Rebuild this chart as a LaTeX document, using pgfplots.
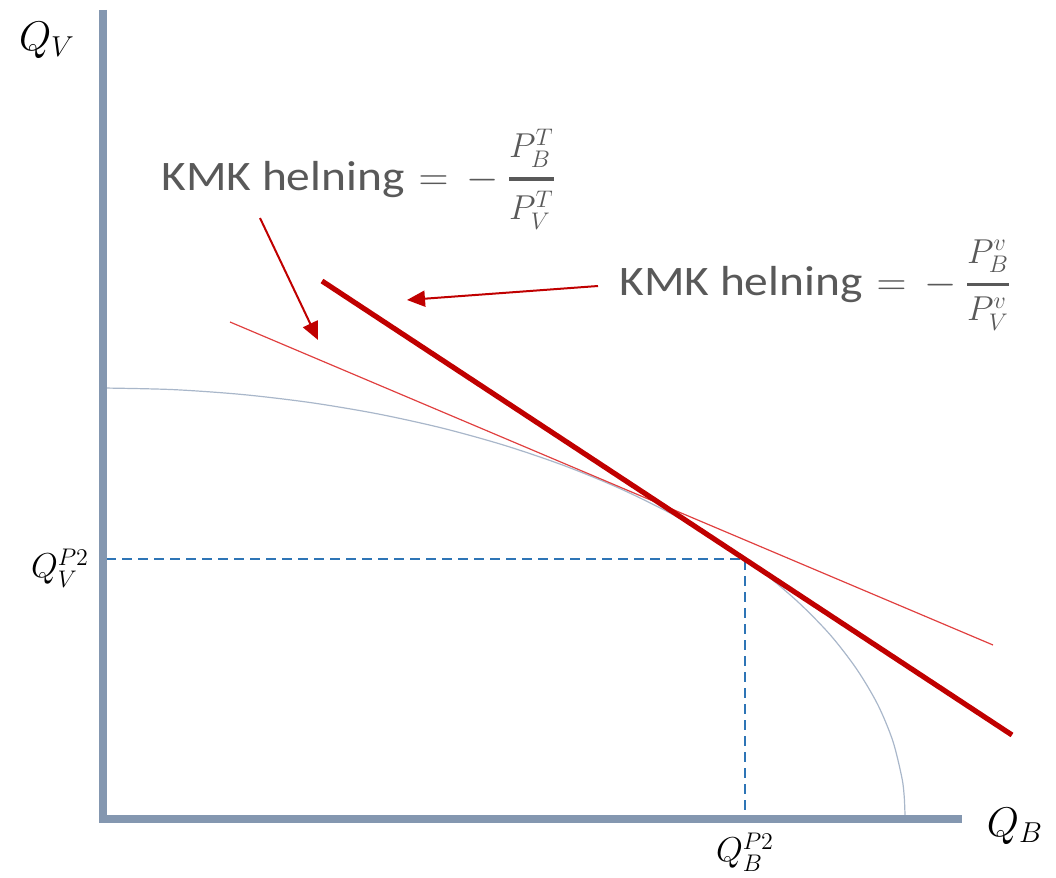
\documentclass[border=0pt]{standalone}
\usepackage{pgfplots}
\pgfplotsset{compat=1.18}
\usepackage{amsmath}
\usepackage{fontspec}
\setmainfont{Carlito}
\usetikzlibrary{arrows.meta}
\definecolor{axisgray}{HTML}{8497B0}
\definecolor{ppf}{HTML}{A9B7CA}
\definecolor{kmkred}{HTML}{C00000}
\definecolor{thinred}{HTML}{E04040}
\definecolor{dashblue}{HTML}{2E75B6}
\definecolor{txtgray}{HTML}{595959}
\newcommand{\kmk}[2]{\scalebox{1.13}[1]{KMK helning}\hspace{7pt}$=$\hspace{9pt}$-$\hspace{4pt}%
  \raisebox{1.2pt}{\fontsize{16.5}{19}\selectfont$\genfrac{}{}{1.7pt}{0}{#1}{#2}$}}
\begin{document}
\begin{tikzpicture}
\begin{axis}[
  hide axis, scale only axis, clip=false,
  width=528pt, height=438pt,
  xmin=0, xmax=1056, ymin=0, ymax=876,
]
\path (axis cs:0,0) rectangle (axis cs:1056,876);
% produksjonsmulighetskurve
\addplot[ppf, line width=0.6pt, smooth] coordinates {
  (905,61) (904.2,79.6) (901.9,98.2) (892.8,135.1) (877.7,171.5) (856.6,207.0)
  (829.9,241.5) (797.5,274.5) (760.0,305.9) (717.3,335.5) (670.1,362.9)
  (618.5,388.1) (563.0,410.8) (504.0,430.8) (441.9,448.0) (377.3,462.2)
  (310.6,473.4) (242.2,481.5) (172.9,486.4) (103,488)};
% stiplede linjer
\addplot[dashblue, line width=1pt, dash pattern=on 5pt off 3pt] coordinates {(106,317) (745,317) (745,58)};
% tynn tangent
\addplot[thinred, line width=0.6pt] coordinates {(230,554) (993,231)};
% tykk linje
\addplot[kmkred, line width=2.6pt] coordinates {(322,595) (1012,141)};
% akser
\addplot[axisgray, line width=4pt] coordinates {(103,866) (103,54)};
\addplot[axisgray, line width=3.8pt] coordinates {(99,57) (962,57)};
% piler
\addplot[kmkred, line width=1pt, -{Triangle[length=9pt,width=8pt]}] coordinates {(260,658) (318,536)};
\addplot[kmkred, line width=1pt, -{Triangle[length=9pt,width=8pt]}] coordinates {(598,590) (407,576)};
% tekst
\node[anchor=center, font=\fontsize{22}{26}\selectfont] at (axis cs:47,836) {$Q_V$};
\node[anchor=center, font=\fontsize{22}{26}\selectfont] at (axis cs:1015,50) {$Q_B$};
\node[anchor=center, font=\fontsize{18}{22}\selectfont] at (axis cs:60,308) {$Q_V^{P2}$};
\node[anchor=center, font=\fontsize{18}{22}\selectfont] at (axis cs:745,24) {$Q_B^{P2}$};
\node[anchor=west, inner sep=0pt, text=txtgray, font=\fontsize{21}{25}\selectfont] at (axis cs:161,697)
  {\kmk{P_B^T}{P_V^T}};
\node[anchor=west, inner sep=0pt, text=txtgray, font=\fontsize{21}{25}\selectfont] at (axis cs:619,591)
  {\kmk{P_B^v}{P_V^v}};
\end{axis}
\end{tikzpicture}
\end{document}
